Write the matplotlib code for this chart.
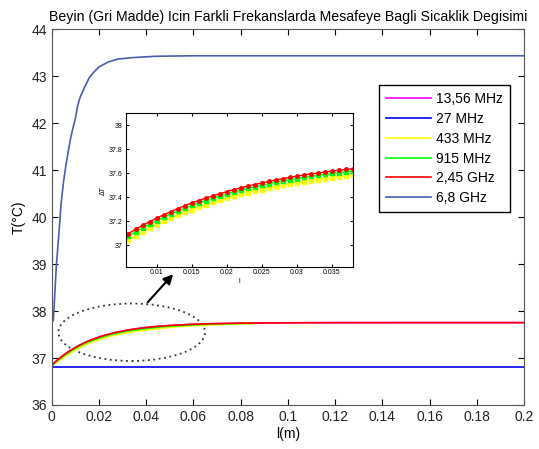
import matplotlib
matplotlib.use('Agg')
import matplotlib.pyplot as plt
from matplotlib.patches import Ellipse

plt.rcParams['font.family'] = ['Liberation Sans', 'DejaVu Sans']

# ortak mesafe noktalari (m)
x_ic = [0.000, 0.001, 0.002, 0.003, 0.004, 0.005, 0.006, 0.007, 0.008, 0.009,
        0.010, 0.011, 0.012, 0.013, 0.014, 0.015, 0.016, 0.017, 0.018, 0.019,
        0.020, 0.021, 0.022, 0.023, 0.024, 0.025, 0.026, 0.027, 0.028, 0.029,
        0.030, 0.031, 0.032, 0.033, 0.034, 0.035, 0.036, 0.037, 0.038, 0.039, 0.040]

# 2,45 GHz (kirmizi)
t_245 = [36.845, 36.893, 36.938, 36.981, 37.022, 37.061, 37.097, 37.132, 37.164, 37.196,
         37.225, 37.253, 37.279, 37.304, 37.328, 37.351, 37.372, 37.392, 37.411, 37.429,
         37.446, 37.463, 37.478, 37.493, 37.506, 37.519, 37.532, 37.544, 37.555, 37.565,
         37.575, 37.585, 37.594, 37.602, 37.610, 37.618, 37.625, 37.632, 37.638, 37.644, 37.650]
x_245_son = [0.045, 0.05, 0.06, 0.07, 0.08, 0.1, 0.12, 0.15, 0.2]
t_245_son = [37.675, 37.694, 37.720, 37.734, 37.743, 37.751, 37.754, 37.755, 37.755]

# 915 MHz (yesil)
t_915 = [36.840, 36.885, 36.926, 36.966, 37.002, 37.041, 37.077, 37.112, 37.144, 37.176,
         37.205, 37.233, 37.259, 37.284, 37.308, 37.331, 37.352, 37.372, 37.391, 37.409,
         37.426, 37.443, 37.458, 37.473, 37.486, 37.499, 37.512, 37.524, 37.535, 37.545,
         37.555, 37.565, 37.574, 37.582, 37.590, 37.598, 37.605, 37.612, 37.618, 37.624, 37.630]
x_son = [0.045, 0.05, 0.06, 0.07, 0.085]
t_915_son = [37.657, 37.678, 37.707, 37.727, 37.742]

# 433 MHz (sari)
t_433 = [36.835, 36.873, 36.908, 36.941, 36.974, 37.006, 37.042, 37.077, 37.109, 37.141,
         37.170, 37.198, 37.224, 37.249, 37.273, 37.296, 37.317, 37.337, 37.356, 37.374,
         37.391, 37.408, 37.423, 37.438, 37.451, 37.464, 37.477, 37.489, 37.500, 37.510,
         37.520, 37.530, 37.539, 37.547, 37.555, 37.563, 37.570, 37.577, 37.583, 37.589, 37.595]
t_433_son = [37.628, 37.652, 37.688, 37.712, 37.735]

# 6,8 GHz (ust egri)
x_68 = [0.0007, 0.001, 0.002, 0.003, 0.004, 0.005, 0.006, 0.007, 0.008, 0.009, 0.010,
        0.011, 0.012, 0.014, 0.016, 0.018, 0.020, 0.024, 0.028, 0.034, 0.044, 0.06, 0.2]
t_68 = [37.80, 38.08, 38.99, 39.62, 40.30, 40.75, 41.10, 41.40, 41.68, 41.90, 42.10,
        42.38, 42.55, 42.78, 42.98, 43.10, 43.20, 43.31, 43.37, 43.40, 43.43, 43.44, 43.44]

# 27 MHz (alt duz cizgi)
x_27 = [0, 0.2]
t_27 = [36.81, 36.81]

etiketler = ['13,56 MHz', '27 MHz', '433 MHz', '915 MHz', '2,45 GHz', '6,8 GHz']
renkler = ['#ff00ff', '#0000ff', '#ffff00', '#00ff00', '#ff0000', '#4b5cb0']

x_ticks = [0, 0.02, 0.04, 0.06, 0.08, 0.1, 0.12, 0.14, 0.16, 0.18, 0.2]
x_tick_lbl = ['0', '0.02', '0.04', '0.06', '0.08', '0.1', '0.12', '0.14', '0.16', '0.18', '0.2']
y_ticks = [36, 37, 38, 39, 40, 41, 42, 43, 44]

ic_xticks = [0.01, 0.015, 0.02, 0.025, 0.03, 0.035]
ic_yticks = [37, 37.2, 37.4, 37.6, 37.8, 38]
ic_ylbl = ['37', '37.2', '37.4', '37.6', '37.8', '38']

fig = plt.figure(figsize=(5.39, 4.49), dpi=100)
ax = fig.add_axes([0.0959, 0.098, 0.8763, 0.8363])

lw = 1.2
ax.plot(x_ic + x_245_son, t_245 + t_245_son, color=renkler[0], lw=lw, label=etiketler[0])
ax.plot(x_27, t_27, color=renkler[1], lw=lw, label=etiketler[1])
ax.plot(x_ic + x_son, t_433 + t_433_son, color=renkler[2], lw=lw, label=etiketler[2])
ax.plot(x_ic + x_son, t_915 + t_915_son, color=renkler[3], lw=lw, label=etiketler[3])
ax.plot(x_ic + x_245_son, t_245 + t_245_son, color=renkler[4], lw=lw, label=etiketler[4])
ax.plot(x_68, t_68, color=renkler[5], lw=lw, label=etiketler[5])

ax.set_xlim(0, 0.2)
ax.set_ylim(36, 44)
ax.set_xticks(x_ticks)
ax.set_xticklabels(x_tick_lbl)
ax.set_yticks(y_ticks)
ax.tick_params(direction='in', top=True, right=True, length=4, labelsize=10,
               labelcolor='#222222')
for s in ax.spines.values():
    s.set_color('#555555')
ax.set_xlabel('l(m)', fontsize=10, labelpad=2)
ax.set_ylabel('T(°C)', fontsize=10, labelpad=4)
ax.set_title('Beyin (Gri Madde) Icin Farkli Frekanslarda Mesafeye Bagli Sicaklik Degisimi',
             fontsize=10.2, pad=6)

leg = ax.legend(loc='upper left', bbox_to_anchor=(0.6936, 0.852), fontsize=10,
                handlelength=3.2, handletextpad=0.4, labelspacing=0.42,
                borderpad=0.5, fancybox=False, framealpha=1, borderaxespad=0)
leg.get_frame().set_edgecolor('black')
leg.get_frame().set_linewidth(1.0)

ax.add_patch(Ellipse((0.0339, 37.55), 0.0621, 1.224, fill=False,
                     linestyle=(0, (1, 2)), lw=1.3, edgecolor='#333333'))
ax.annotate('', xy=(0.0522, 38.83), xytext=(0.0399, 38.147),
            arrowprops=dict(arrowstyle='-|>', color='black', lw=1.5, mutation_scale=14))

# buyutulmus bolge
axi = fig.add_axes([0.2332, 0.406, 0.4212, 0.3416])
ms = 2.5
axi.plot(x_ic, t_433, color=renkler[2], lw=1, marker='s', ms=ms)
axi.plot(x_ic, t_915, color=renkler[3], lw=1, marker='s', ms=ms)
axi.plot(x_ic, t_245, color=renkler[4], lw=1, marker='o', ms=ms)
axi.set_xlim(0.0056, 0.038)
axi.set_ylim(36.82, 38.1)
axi.set_xticks(ic_xticks)
axi.set_xticklabels([str(v) for v in ic_xticks])
axi.set_yticks(ic_yticks)
axi.set_yticklabels(ic_ylbl)
axi.tick_params(direction='in', top=True, right=True, length=2.5, labelsize=5,
                pad=2)
axi.set_xlabel('l', fontsize=5, labelpad=1)
axi.set_ylabel('ΔT', fontsize=5, labelpad=2)

fig.savefig('out.png', dpi=100)
